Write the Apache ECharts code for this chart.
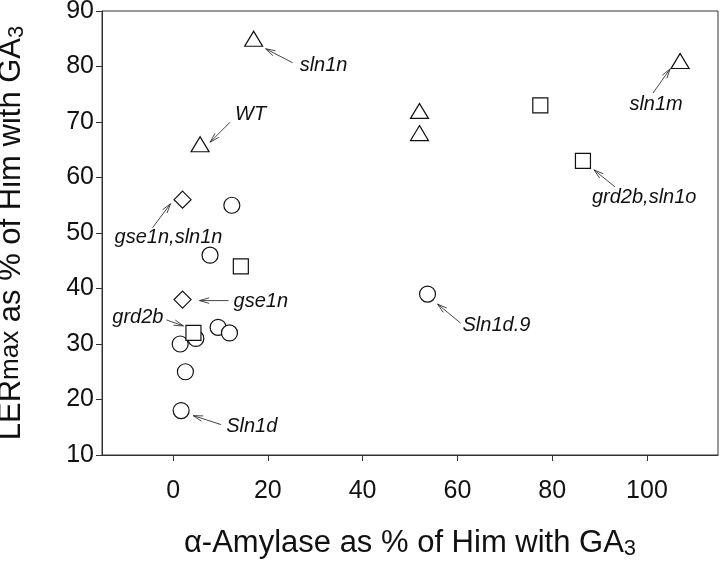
<!DOCTYPE html>
<html>
<head>
<meta charset="utf-8">
<script src="https://cdn.jsdelivr.net/npm/echarts@6/dist/echarts.min.js"></script>
<style>
  html, body { margin: 0; padding: 0; background: #fff; }
  #myChart { width: 720px; height: 562px; }
</style>
</head>
<body>
<div id="myChart"></div>
<script>
// data: [alpha-amylase %, LERmax %]
const circles = [[1.5, 30], [4.8, 31], [1.7, 18], [2.6, 25], [7.8, 46], [9.5, 33], [11.9, 32], [12.4, 55], [53.7, 39]];
const squares = [[4.3, 32], [14.3, 44], [77.5, 73], [86.5, 63]];
const diamonds = [[2, 56], [2, 38]];
const triangles = [[5.7, 66], [17, 85], [52, 72], [52, 68], [107, 81]];

const xTicks = [0, 20, 40, 60, 80, 100];

// labelled points
const noteLabels = ['WT', 'sln1n', 'sln1m', 'gse1n,sln1n', 'gse1n', 'grd2b', 'Sln1d', 'Sln1d.9', 'grd2b,sln1o'];
const notePoints = [[5.7, 66], [17, 85], [107, 81], [2, 56], [2, 38], [4.3, 32], [1.7, 18], [53.7, 39], [86.5, 63]];

// pixel offsets from the point: label [dx, dy, align], arrow tail, arrow head
const noteLayout = [
  { label: [35, -30, 'left'], tail: [30, -22], head: [10, -2] },
  { label: [46, 27, 'left'], tail: [39, 24], head: [12, 10] },
  { label: [-24, 43, 'center'], tail: [-27, 32], head: [-10, 8] },
  { label: [-14, 38, 'center'], tail: [-30, 28], head: [-12, 4] },
  { label: [51, 2, 'left'], tail: [46, 1], head: [17, 1] },
  { label: [-30, -15, 'right'], tail: [-27, -13], head: [-10, -7] },
  { label: [45, 16, 'left'], tail: [40, 14], head: [12, 5] },
  { label: [35, 31, 'left'], tail: [33, 29], head: [10, 10] },
  { label: [9, 37, 'left'], tail: [32, 26], head: [11, 9] }
];

const font = '"Liberation Sans", Arial, sans-serif';
const ink = '#111';

function markerSeries(name, data, symbol, size) {
  return {
    name: name,
    type: 'scatter',
    data: data,
    symbol: symbol,
    symbolSize: size,
    itemStyle: { color: '#fff', borderColor: ink, borderWidth: 1.2, opacity: 1 },
    emphasis: { disabled: true },
    z: 3
  };
}

function renderNote(params, api) {
  const i = api.value(2);
  const p = api.coord([api.value(0), api.value(1)]);
  const lay = noteLayout[i];
  const x1 = p[0] + lay.tail[0], y1 = p[1] + lay.tail[1];
  const x2 = p[0] + lay.head[0], y2 = p[1] + lay.head[1];
  const ang = Math.atan2(y2 - y1, x2 - x1);
  const len = 10, spread = 0.28;
  const a1 = [x2 - len * Math.cos(ang - spread), y2 - len * Math.sin(ang - spread)];
  const a2 = [x2 - len * Math.cos(ang + spread), y2 - len * Math.sin(ang + spread)];
  const lineStyle = { stroke: '#333', lineWidth: 0.9, fill: null };
  return {
    type: 'group',
    children: [
      { type: 'line', shape: { x1: x1, y1: y1, x2: x2, y2: y2 }, style: lineStyle },
      { type: 'polyline', shape: { points: [a1, [x2, y2], a2] }, style: lineStyle },
      {
        type: 'text',
        x: p[0] + lay.label[0],
        y: p[1] + lay.label[1],
        style: {
          text: noteLabels[i],
          fill: ink,
          fontSize: 20,
          fontStyle: 'italic',
          fontFamily: font,
          align: lay.label[2],
          verticalAlign: 'middle'
        }
      }
    ]
  };
}

const chart = echarts.init(document.getElementById('myChart'));

const options = {
  animation: false,
  backgroundColor: '#fff',
  grid: {
    left: 102,
    right: 2,
    top: 11,
    bottom: 107,
    containLabel: false,
    outerBoundsMode: 'none',
    show: true,
    borderColor: '#333',
    borderWidth: 1,
    backgroundColor: 'transparent'
  },
  xAxis: {
    type: 'value',
    min: -15,
    max: 115,
    name: '{a|α-Amylase as % of Him with GA}{s|3}',
    nameLocation: 'middle',
    nameGap: 71,
    nameTextStyle: {
      rich: {
        a: { fontSize: 31, fontFamily: font, color: ink, lineHeight: 34 },
        s: { fontSize: 22, fontFamily: font, color: ink, lineHeight: 16, verticalAlign: 'bottom' }
      }
    },
    splitLine: { show: false },
    axisLine: { onZero: false, lineStyle: { color: '#333', width: 1 } },
    axisTick: { show: true, length: 6, inside: false, customValues: xTicks, lineStyle: { color: '#333' } },
    axisLabel: { customValues: xTicks, fontSize: 25, fontFamily: font, color: ink, margin: 24 }
  },
  yAxis: {
    type: 'value',
    min: 10,
    max: 90,
    interval: 10,
    name: '{a|LER}{m|max}{a| as % of Him with GA}{s|3}',
    nameLocation: 'middle',
    nameRotate: 90,
    nameGap: 74,
    nameTextStyle: {
      rich: {
        a: { fontSize: 31, fontFamily: font, color: ink, lineHeight: 34 },
        m: { fontSize: 26, fontFamily: font, color: ink, lineHeight: 34 },
        s: { fontSize: 22, fontFamily: font, color: ink, lineHeight: 16, verticalAlign: 'bottom' }
      }
    },
    splitLine: { show: false },
    axisLine: { show: true, onZero: false, lineStyle: { color: '#333', width: 1 } },
    axisTick: { show: true, length: 6, inside: false, lineStyle: { color: '#333' } },
    axisLabel: { fontSize: 25, fontFamily: font, color: ink, margin: 8 }
  },
  series: [
    markerSeries('circle', circles, 'circle', 16),
    markerSeries('square', squares, 'rect', 15),
    markerSeries('diamond', diamonds, 'diamond', 17),
    markerSeries('triangle', triangles, 'triangle', [18, 15]),
    {
      name: 'notes',
      type: 'custom',
      renderItem: renderNote,
      data: notePoints.map(function (p, i) { return [p[0], p[1], i]; }),
      encode: { x: 0, y: 1 },
      clip: false,
      silent: true,
      z: 4
    }
  ]
};

chart.setOption(options);
</script>
</body>
</html>
